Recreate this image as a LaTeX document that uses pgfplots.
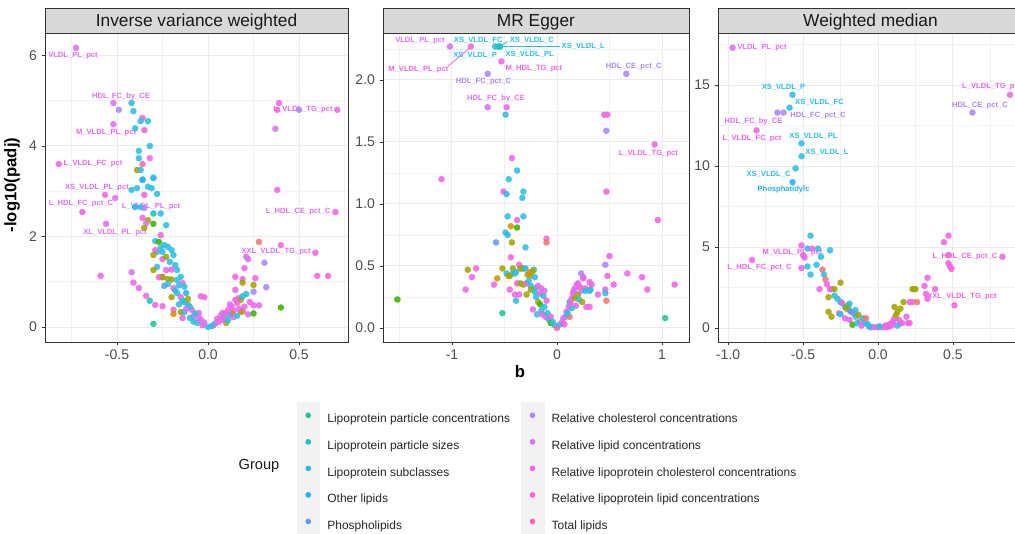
\documentclass[border=0pt]{standalone}
\usepackage{fontspec}
\setmainfont{Liberation Sans}
\usepackage{pgfplots}
\pgfplotsset{compat=1.18}

% group colours (ggplot hue palette, as seen)
\definecolor{cRd}{HTML}{F8766D}
\definecolor{cOg}{HTML}{D89000}
\definecolor{cOl}{HTML}{A3A500}
\definecolor{cGr}{HTML}{39B600}
\definecolor{cPC}{HTML}{26C39A}
\definecolor{cPS}{HTML}{1EC2C0}
\definecolor{cSC}{HTML}{2DBFE0}
\definecolor{cOT}{HTML}{2AAFEF}
\definecolor{cPH}{HTML}{5E9BF8}
\definecolor{cRC}{HTML}{AD88FB}
\definecolor{cRL}{HTML}{DC71F5}
\definecolor{cRK}{HTML}{F165E6}
\definecolor{cRP}{HTML}{FB62D2}
\definecolor{cTL}{HTML}{FF63B4}
\definecolor{gridc}{HTML}{EBEBEB}
\definecolor{bordc}{HTML}{333333}
\definecolor{tickc}{HTML}{4D4D4D}
\definecolor{stripc}{HTML}{D9D9D9}
\definecolor{keybg}{HTML}{F2F2F2}

\pgfplotsset{
  panel/.style={
    scale only axis, width=#1, height=231.75pt, anchor=south west,
    clip=false,
    axis line style={draw=bordc, line width=0.6pt},
    grid=both,
    major grid style={draw=gridc, line width=0.75pt},
    minor grid style={draw=gridc!70!white, line width=0.4pt},
    tick align=outside, tick pos=left,
    major tick length=2.5pt, minor tick length=0pt,
    major tick style={draw=bordc, line width=0.6pt},
    tick label style={font=\fontsize{10.5}{12}\selectfont, text=tickc},
    /pgf/number format/assume math mode=true,
    scatter/classes={
      rd={draw=cRd, fill=cRd}, og={draw=cOg, fill=cOg},
      ol={draw=cOl, fill=cOl}, gr={draw=cGr, fill=cGr},
      pc={draw=cPC, fill=cPC}, ps={draw=cPS, fill=cPS},
      sc={draw=cSC, fill=cSC}, ot={draw=cOT, fill=cOT},
      ph={draw=cPH, fill=cPH}, rc={draw=cRC, fill=cRC},
      rl={draw=cRL, fill=cRL}, rk={draw=cRK, fill=cRK},
      rp={draw=cRP, fill=cRP}, tl={draw=cTL, fill=cTL}},
  },
  pts/.style={scatter, only marks, mark=*, mark size=2.3pt,
    scatter src=explicit symbolic,
    mark options={line width=0.2pt, opacity=0.88}},
  legdot/.style={legend image code/.code={
      \fill[keybg] (-8.6pt,-6.5pt) rectangle (8.6pt,13pt);
      \fill[#1] (0pt,3.2pt) circle (1.9pt);}},
}
\tikzset{lab/.style={font=\fontsize{5.7}{6}\selectfont\bfseries, inner sep=0pt}}

\begin{document}
\begin{tikzpicture}

% ---------------- Inverse variance weighted
\begin{axis}[panel=227.25pt, name=p1, at={(33.75pt,143.25pt)},
    xmin=-0.8956, xmax=0.769, ymin=-0.331, ymax=6.497,
    xtick={-0.5,0,0.5}, xticklabels={-0.5,0.0,0.5},
    minor xtick={-0.75,-0.25,0.25,0.75},
    ytick={0,2,4,6}, yticklabels={0,2,4,6}, minor ytick={1,3,5}]
\addplot[pts] table[meta=g] {
b v g
-0.725 6.17 rl
-0.52 4.95 rl
-0.49 4.80 rc
-0.42 4.95 sc
-0.41 4.77 sc
-0.36 4.62 rk
-0.37 4.55 sc
-0.33 4.55 sc
-0.52 4.48 rl
-0.40 4.39 sc
-0.35 4.35 rp
-0.32 4.00 sc
-0.38 3.89 sc
-0.38 3.73 sc
-0.32 3.73 rk
-0.82 3.60 rk
-0.36 3.60 tl
-0.39 3.47 ol
-0.37 3.47 sc
-0.30 3.30 sc
-0.36 3.26 sc
-0.566 2.92 rk
-0.51 2.85 rl
-0.42 3.03 sc
-0.39 3.07 sc
-0.36 3.25 ot
-0.33 3.10 sc
-0.31 3.07 sc
-0.30 3.29 sc
-0.35 2.92 rk
-0.28 2.94 sc
-0.69 2.54 rk
-0.40 2.65 ot
-0.37 2.65 sc
-0.35 2.63 rc
-0.30 2.51 ps
-0.26 2.51 sc
-0.36 2.41 rk
-0.33 2.36 ol
-0.34 2.29 rl
-0.30 2.28 gr
-0.35 2.19 ol
-0.23 2.25 sc
-0.56 2.28 rl
-0.26 2.03 rk
-0.29 1.90 sc
-0.27 1.88 gr
-0.24 1.81 sc
-0.22 1.77 sc
-0.26 1.75 sc
-0.28 1.66 sc
-0.25 1.66 sc
-0.20 1.70 sc
-0.19 1.59 sc
-0.29 1.70 rk
-0.30 1.59 ol
-0.25 1.50 rk
-0.23 1.55 ol
-0.21 1.44 sc
-0.18 1.37 sc
-0.28 1.33 sc
-0.30 1.26 ol
-0.17 1.26 sc
-0.20 1.27 rk
-0.23 1.26 rk
-0.25 1.11 rk
-0.27 1.10 rk
-0.25 1.10 ol
-0.22 1.06 ol
-0.20 1.05 ol
-0.17 1.04 sc
-0.15 1.11 sc
-0.14 0.97 rk
-0.24 0.91 ph
-0.19 0.86 rk
-0.13 0.89 sc
-0.17 0.75 sc
-0.15 0.66 rk
-0.20 0.66 ol
-0.13 0.55 sc
-0.11 0.49 sc
-0.19 0.38 rk
-0.15 0.33 ol
-0.09 0.38 rk
-0.19 0.29 og
-0.13 0.33 sc
-0.05 0.31 rk
-0.06 0.09 sc
-0.03 0.04 rk
0.00 0.00 sc
-0.04 0.16 rk
-0.08 0.24 rk
-0.10 0.45 sc
-0.12 0.40 rl
-0.16 0.50 sc
-0.14 0.58 sc
-0.11 0.62 ol
-0.18 0.80 sc
-0.16 0.92 sc
-0.22 0.95 sc
-0.12 0.75 ot
-0.07 0.30 sc
-0.02 0.10 rl
-0.04 0.68 rk
-0.02 0.66 rk
-0.10 0.20 sc
-0.08 0.12 sc
-0.05 0.20 rl
-0.14 0.20 rk
-0.42 1.21 rl
-0.59 1.13 rk
-0.41 0.98 rk
-0.38 0.86 rk
-0.34 0.69 rk
-0.32 0.58 ps
-0.29 0.49 rk
-0.25 0.46 rk
-0.30 0.07 pc
0.39 4.95 rk
0.38 4.80 rk
0.50 4.80 rc
0.71 4.80 rk
0.37 4.38 rl
0.38 3.03 rk
0.70 2.54 rk
0.28 1.88 rd
0.40 1.81 rk
0.59 1.64 rk
0.21 1.55 rk
0.22 1.50 rl
0.31 1.42 rc
0.20 1.30 rk
0.60 1.13 rk
0.66 1.13 rk
0.15 1.11 rk
0.26 1.08 rk
0.19 1.06 rk
0.25 0.93 ol
0.32 0.88 rc
0.19 0.98 ol
0.15 0.82 rk
0.25 0.78 rc
0.21 0.73 sc
0.40 0.43 gr
0.25 0.48 rk
0.28 0.48 rk
0.25 0.30 gr
0.19 0.34 rd
0.18 0.34 ol
0.17 0.64 rk
0.18 0.60 ol
0.19 0.68 sc
0.16 0.53 rk
0.14 0.36 rk
0.13 0.31 og
0.12 0.27 sc
0.13 0.45 rk
0.11 0.38 rk
0.08 0.31 rk
0.10 0.09 ol
0.09 0.20 sc
0.08 0.16 rk
0.04 0.08 sc
0.03 0.04 rk
0.06 0.12 rk
0.07 0.25 rl
0.10 0.30 rk
0.12 0.50 rl
0.15 0.60 rk
0.14 0.22 rk
0.05 0.18 rk
0.11 0.15 sc
0.02 0.02 sc
0.23 0.55 rk
0.20 0.45 rk
0.17 0.40 rk
0.22 0.28 rl
0.16 0.25 sc
};
\node[lab, text=cRL] at (axis cs:-0.742,5.99) {VLDL\_PL\_pct};
\node[lab, text=cRL] at (axis cs:-0.478,5.10) {HDL\_FC\_by\_CE};
\node[lab, text=cRK] at (axis cs:-0.560,4.29) {M\_VLDL\_PL\_pct};
\node[lab, text=cRK] at (axis cs:-0.632,3.60) {L\_VLDL\_FC\_pct};
\node[lab, text=cRK] at (axis cs:0.522,4.80) {L\_VLDL\_TG\_pct};
\node[lab, text=cRL] at (axis cs:-0.610,3.09) {XS\_VLDL\_PL\_pct};
\node[lab, text=cRL] at (axis cs:-0.698,2.72) {L\_HDL\_FC\_pct\_C};
\node[lab, text=cRL] at (axis cs:-0.313,2.67) {L\_VLDL\_PL\_pct};
\node[lab, text=cRL] at (axis cs:-0.511,2.08) {XL\_VLDL\_PL\_pct};
\node[lab, text=cRL] at (axis cs:0.495,2.54) {L\_HDL\_CE\_pct\_C};
\node[lab, text=cRL] at (axis cs:0.374,1.66) {XXL\_VLDL\_TG\_pct};
\end{axis}

% ---------------- MR Egger
\begin{axis}[panel=229.5pt, name=p2, at={(287.25pt,143.25pt)},
    xmin=-1.657, xmax=1.257, ymin=-0.113, ymax=2.379,
    xtick={-1,0,1}, xticklabels={-1,0,1},
    minor xtick={-1.5,-0.5,0.5},
    ytick={0,0.5,1,1.5,2}, yticklabels={0.0,0.5,1.0,1.5,2.0},
    minor ytick={0.25,0.75,1.25,1.75,2.25}]
\addplot[pts] table[meta=g] {
b v g
-1.02 2.27 rl
-0.82 2.27 rk
-0.59 2.27 sc
-0.565 2.27 sc
-0.54 2.27 sc
-0.55 2.27 ps
-0.53 2.15 rk
-0.66 2.05 rc
0.66 2.05 rc
-0.66 1.78 rl
-0.48 1.78 rk
-0.49 1.72 sc
0.45 1.72 rk
0.48 1.72 rk
0.47 1.59 rc
0.93 1.48 rk
-0.43 1.37 rk
-0.38 1.27 sc
-1.10 1.20 rk
-0.46 1.20 sc
-0.51 1.10 rk
-0.48 1.08 sc
-0.32 1.10 sc
-0.33 1.05 sc
0.47 1.10 rk
-0.47 0.90 sc
-0.32 0.90 sc
-0.38 0.87 rk
-0.44 0.82 og
-0.38 0.81 gr
0.96 0.87 rk
-0.49 0.77 sc
-0.47 0.75 sc
-0.58 0.69 ph
-0.43 0.69 ol
-0.10 0.72 rk
-0.10 0.69 rd
-0.30 0.65 sc
-0.44 0.57 rk
0.50 0.58 rk
0.46 0.51 rc
-0.85 0.47 ol
-0.77 0.48 rk
-0.81 0.41 rk
-0.87 0.31 rk
-0.52 0.48 ol
-0.42 0.48 ol
-0.33 0.48 og
-0.57 0.40 og
-0.60 0.35 rk
-0.48 0.44 sc
-0.40 0.44 sc
-0.46 0.42 ol
-0.36 0.51 rk
-0.32 0.48 sc
-0.22 0.47 sc
-0.28 0.43 ol
-0.25 0.42 og
-0.21 0.41 sc
-0.45 0.31 rk
-0.40 0.27 rk
-0.36 0.27 rk
-0.39 0.22 sc
-0.52 0.12 pc
-1.52 0.23 gr
0.67 0.44 rk
0.81 0.41 rk
0.86 0.31 rk
0.54 0.35 rk
1.12 0.35 rk
1.03 0.08 pc
0.46 0.31 rk
0.48 0.42 rk
0.46 0.28 sc
0.39 0.27 rk
0.47 0.22 rd
0.31 0.17 rk
0.25 0.41 rk
0.25 0.40 rk
0.32 0.31 sc
0.33 0.35 rk
0.27 0.32 rk
-0.42 0.44 sc
-0.39 0.45 sc
-0.45 0.42 ol
-0.35 0.48 ol
-0.30 0.48 sc
-0.26 0.45 og
-0.23 0.46 ol
-0.38 0.36 rk
-0.35 0.36 ol
-0.32 0.35 ol
-0.29 0.36 rk
-0.25 0.34 sc
-0.21 0.32 sc
-0.18 0.34 rk
-0.15 0.32 rk
-0.29 0.27 ol
-0.25 0.31 ol
-0.21 0.29 sc
-0.16 0.28 rk
-0.13 0.26 sc
-0.18 0.21 ol
-0.16 0.19 gr
-0.23 0.15 rk
-0.19 0.11 sc
-0.15 0.14 sc
-0.12 0.17 sc
-0.14 0.11 rk
-0.11 0.09 rk
-0.09 0.12 sc
-0.08 0.07 sc
-0.06 0.09 rk
-0.02 0.02 sc
-0.06 0.04 gr
-0.10 0.22 rk
-0.20 0.25 sc
-0.27 0.38 sc
-0.12 0.30 rl
-0.04 0.05 sc
0.00 0.00 tl
0.03 0.03 sc
0.05 0.05 rk
0.08 0.09 sc
0.09 0.13 rk
0.11 0.17 rk
0.12 0.09 rd
0.12 0.21 sc
0.14 0.24 rk
0.15 0.28 rk
0.17 0.32 rk
0.19 0.35 rk
0.20 0.36 rk
0.17 0.24 ol
0.20 0.27 ol
0.21 0.23 sc
0.24 0.21 ol
0.18 0.18 rk
0.14 0.16 sc
0.23 0.30 rc
0.27 0.30 sc
0.31 0.30 sc
0.28 0.17 rk
0.23 0.44 rc
0.31 0.37 rk
0.06 0.08 rl
0.10 0.12 sc
0.16 0.30 rl
0.13 0.20 rk
0.22 0.33 rk
0.07 0.03 rk
};
\draw[cRK, line width=0.6pt] (axis cs:-1.04,2.11) -- (axis cs:-0.83,2.26);
\draw[cSC, line width=0.6pt] (axis cs:-0.53,2.27) -- (axis cs:0.03,2.27);
\draw[cSC, line width=0.6pt] (axis cs:-0.57,2.26) -- (axis cs:-0.47,2.31);
\node[lab, text=cRL] at (axis cs:-1.305,2.32) {VLDL\_PL\_pct};
\node[lab, text=cRK] at (axis cs:-1.32,2.08) {M\_VLDL\_PL\_pct};
\node[lab, text=cSC] at (axis cs:-0.75,2.32) {XS\_VLDL\_FC};
\node[lab, text=cSC] at (axis cs:-0.24,2.32) {XS\_VLDL\_C};
\node[lab, text=cSC] at (axis cs:0.25,2.27) {XS\_VLDL\_L};
\node[lab, text=cSC] at (axis cs:-0.78,2.20) {XS\_VLDL\_P};
\node[lab, text=cSC] at (axis cs:-0.26,2.21) {XS\_VLDL\_PL};
\node[lab, text=cRK] at (axis cs:-0.22,2.09) {M\_HDL\_TG\_pct};
\node[lab, text=cRC] at (axis cs:-0.70,1.99) {HDL\_FC\_pct\_C};
\node[lab, text=cRC] at (axis cs:0.73,2.11) {HDL\_CE\_pct\_C};
\node[lab, text=cRL] at (axis cs:-0.58,1.85) {HDL\_FC\_by\_CE};
\node[lab, text=cRK] at (axis cs:0.87,1.41) {L\_VLDL\_TG\_pct};
\end{axis}

% ---------------- Weighted median
\begin{axis}[panel=228.75pt, name=p3, at={(538.5pt,143.25pt)},
    xmin=-1.067, xmax=0.967, ymin=-0.864, ymax=18.21,
    xtick={-1,-0.5,0,0.5}, xticklabels={-1.0,-0.5,0.0,0.5},
    minor xtick={-0.75,-0.25,0.25,0.75},
    ytick={0,5,10,15}, yticklabels={0,5,10,15},
    minor ytick={2.5,7.5,12.5,17.5}]
\addplot[pts] table[meta=g] {
b v g
-0.97 17.3 rl
-0.57 14.4 sc
-0.59 13.6 sc
-0.67 13.3 rc
-0.63 13.3 rc
-0.81 12.2 rk
-0.51 11.4 sc
-0.51 10.6 sc
-0.55 9.85 sc
-0.57 9.0 ot
0.88 14.4 rk
0.63 13.3 rc
-0.84 4.2 rk
-0.45 5.7 sc
-0.51 5.1 rk
-0.47 4.9 sc
-0.44 4.9 rk
-0.40 4.9 sc
-0.32 4.8 sc
-0.50 4.5 rk
-0.49 4.35 rk
-0.38 4.4 sc
-0.41 3.9 sc
-0.47 3.8 sc
-0.51 3.7 rk
-0.37 3.6 rd
-0.45 3.3 sc
-0.36 3.3 sc
-0.35 3.0 rd
-0.34 2.7 rk
-0.25 2.8 ol
-0.39 2.4 rk
-0.32 2.4 rk
-0.31 2.4 rk
-0.29 2.4 ol
-0.29 2.0 sc
-0.33 1.9 ol
-0.27 1.8 sc
-0.25 1.6 sc
-0.24 1.55 rk
-0.33 1.0 ol
-0.31 0.7 ol
-0.26 0.9 rk
-0.25 0.85 sc
-0.22 1.3 sc
-0.20 1.4 ol
-0.19 1.5 sc
-0.19 1.1 sc
-0.16 0.9 rk
-0.15 1.1 sc
-0.15 0.7 sc
-0.13 0.8 ol
-0.17 0.2 gr
-0.19 0.5 rk
-0.12 0.4 rk
-0.10 0.6 sc
-0.09 0.3 sc
-0.08 0.6 rd
-0.07 0.25 sc
-0.21 1.2 ol
-0.18 1.0 ph
-0.22 0.6 rk
-0.14 0.3 sc
-0.11 0.15 rk
-0.05 0.05 rl
-0.04 0.05 rl
-0.02 0.05 rl
0.00 0.05 rl
0.02 0.05 rl
0.04 0.05 rl
0.06 0.05 rl
-0.06 0.1 sc
0.01 0.1 sc
0.07 0.2 rd
0.08 0.1 rk
0.09 0.3 rk
0.11 0.6 rk
0.10 0.4 rk
0.13 1.0 ol
0.11 1.3 ol
0.12 0.8 ol
0.15 0.3 rk
0.16 0.3 rk
0.13 0.15 sc
0.17 1.6 ol
0.21 1.6 rk
0.23 1.6 rk
0.26 1.6 rd
0.23 2.4 ol
0.24 2.4 ol
0.25 2.4 ol
0.31 2.6 rk
0.33 3.1 rk
0.32 2.1 rk
0.33 1.8 rk
0.38 2.4 rk
0.51 1.4 rk
0.47 5.7 rk
0.44 5.3 rk
0.47 4.5 rk
0.47 4.0 rk
0.48 3.8 rk
0.49 3.65 rk
0.83 4.4 rk
0.19 0.7 rk
0.21 0.3 rk
0.20 0.3 rk
0.14 0.5 rk
0.05 0.15 rk
0.10 0.2 rl
0.15 1.2 ol
};
\node[lab, text=cRL, anchor=west] at (axis cs:-0.94,17.3) {VLDL\_PL\_pct};
\node[lab, text=cSC] at (axis cs:-0.63,14.88) {XS\_VLDL\_P};
\node[lab, text=cSC] at (axis cs:-0.39,13.95) {XS\_VLDL\_FC};
\node[lab, text=cRC] at (axis cs:-0.40,13.09) {HDL\_FC\_pct\_C};
\node[lab, text=cRL] at (axis cs:-0.83,12.72) {HDL\_FC\_by\_CE};
\node[lab, text=cRK] at (axis cs:-0.84,11.67) {L\_VLDL\_FC\_pct};
\node[lab, text=cSC] at (axis cs:-0.43,11.85) {XS\_VLDL\_PL};
\node[lab, text=cSC] at (axis cs:-0.34,10.86) {XS\_VLDL\_L};
\node[lab, text=cSC] at (axis cs:-0.73,9.51) {XS\_VLDL\_C};
\node[lab, text=cOT] at (axis cs:-0.63,8.52) {Phosphatidylc};
\node[lab, text=cRK, anchor=west] at (axis cs:0.56,14.88) {L\_VLDL\_TG\_pct};
\node[lab, text=cRC] at (axis cs:0.68,13.70) {HDL\_CE\_pct\_C};
\node[lab, text=cRK] at (axis cs:-0.57,4.63) {M\_VLDL\_PL\_pct};
\node[lab, text=cRK] at (axis cs:-0.79,3.70) {L\_HDL\_FC\_pct\_C};
\node[lab, text=cRK] at (axis cs:0.58,4.38) {L\_HDL\_CE\_pct\_C};
\node[lab, text=cRK] at (axis cs:0.56,1.91) {XXL\_VLDL\_TG\_pct};
\end{axis}

% facet strips
\foreach \p/\t in {p1/Inverse variance weighted, p2/MR Egger, p3/Weighted median}{
  \draw[draw=bordc, fill=stripc, line width=0.6pt]
    (\p.north west) rectangle ([yshift=18.75pt]\p.north east);
  \node[font=\fontsize{13}{15}\selectfont, text=black!90, anchor=base]
    at ([yshift=5.2pt]\p.north) {\t};
}

% axis titles
\node[rotate=90, font=\fontsize{12.5}{14}\selectfont\bfseries] at (9pt,261pt) {-log10(padj)};
\node[font=\fontsize{12.5}{14}\selectfont\bfseries] at (390pt,120.75pt) {b};

% legend
\begin{axis}[hide axis, scale only axis, width=761.25pt, height=399.75pt,
    at={(0pt,0pt)}, anchor=south west, xmin=0, xmax=1, ymin=0, ymax=1,
    legend columns=2,
    legend cell align=left,
    legend style={at={(0.29215,0.2458)}, anchor=north west, draw=none, fill=none,
      inner sep=0pt, outer sep=0pt,
      nodes={inner sep=0pt, font=\fontsize{9}{10}\selectfont, text=black!85},
      /tikz/every odd column/.append style={column sep=5.5pt},
      /tikz/every even column/.append style={column sep=8pt}}]
\addlegendimage{legdot=cPC} \addlegendentry{Lipoprotein particle concentrations}
\addlegendimage{legdot=cRC} \addlegendentry{Relative cholesterol concentrations}
\addlegendimage{legdot=cPS} \addlegendentry{Lipoprotein particle sizes}
\addlegendimage{legdot=cRL} \addlegendentry{Relative lipid concentrations}
\addlegendimage{legdot=cSC} \addlegendentry{Lipoprotein subclasses}
\addlegendimage{legdot=cRK} \addlegendentry{Relative lipoprotein cholesterol concentrations}
\addlegendimage{legdot=cOT} \addlegendentry{Other lipids}
\addlegendimage{legdot=cRP} \addlegendentry{Relative lipoprotein lipid concentrations}
\addlegendimage{legdot=cPH} \addlegendentry{Phospholipids}
\addlegendimage{legdot=cTL} \addlegendentry{Total lipids}
\end{axis}
\node[font=\fontsize{11}{13}\selectfont, text=black!90] at (194.25pt,50.25pt) {Group};

\pgfresetboundingbox
\path[use as bounding box] (0pt,0pt) rectangle (761.25pt,399.75pt);
\end{tikzpicture}
\end{document}
